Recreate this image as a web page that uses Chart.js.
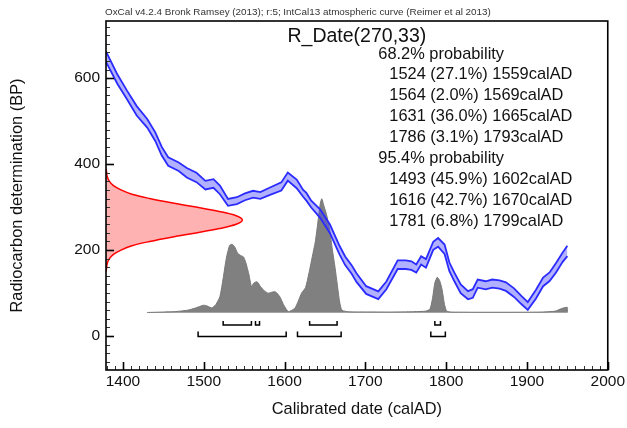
<!DOCTYPE html>
<html><head><meta charset="utf-8">
<script src="https://cdn.jsdelivr.net/npm/chart.js@4.4.0/dist/chart.umd.min.js"></script>
<style>html,body{margin:0;padding:0;background:#fff}#wrap{width:627px;height:428px;position:relative}</style>
</head><body><div id="wrap"><canvas id="c" width="627" height="428"></canvas></div>
<script>
// ---- data ----
const headerText = 'OxCal v4.2.4 Bronk Ramsey (2013); r:5; IntCal13 atmospheric curve (Reimer et al 2013)';
const titleText = 'R_Date(270,33)';
const probLines = [
  '68.2% probability',
  '1524 (27.1%) 1559calAD',
  '1564 (2.0%) 1569calAD',
  '1631 (36.0%) 1665calAD',
  '1786 (3.1%) 1793calAD',
  '95.4% probability',
  '1493 (45.9%) 1602calAD',
  '1616 (42.7%) 1670calAD',
  '1781 (6.8%) 1799calAD'
];
const xTickLabels = [1400, 1500, 1600, 1700, 1800, 1900, 2000];
const yTickLabels = [0, 200, 400, 600];

// IntCal13 calibration curve (BP mean and 1 sigma)
const curveYears = [1379,1393,1405,1417,1430,1440,1448,1456,1469,1479,1491,1502,1512,1520,1530,1541,1551,1561,1570,1582,1596,1604,1615,1623,1627,1633,1644,1656,1668,1675,1683,1689,1701,1716,1726,1740,1750,1757,1763,1769,1775,1784,1790,1798,1804,1810,1818,1827,1833,1839,1849,1857,1866,1874,1884,1893,1901,1911,1920,1928,1936,1944,1950];
const curveBP    = [650,598,561,524,495,464,430,406,394,380,369,351,355,340,311,315,324,330,327,337,348,371,354,332,324,307,285,250,200,175,155,136,107,95,118,166,166,164,157,176,169,210,218,202,161,138,110,95,99,122,118,122,120,115,101,84,70,97,126,138,159,183,198];
const curveErr   = [12,11,10,11,10,10,10,10,10,11,11,10,10,10,8,8,8,8,8,8.5,9.5,9.5,10,8,9,8,10,10,10,10,10,10,9,9,9,10,10,10,9.5,9.5,10,9.5,10,11,10,10,10,9.5,10,9.5,9.5,9.5,9.5,10,10,9.5,9,10,10,10,11,11,12];

// calibrated probability distribution (relative)
const pdfYears = [1430,1450,1465,1480,1490,1500,1505,1510,1515,1520,1524,1528,1532,1535,1538,1542,1546,1549,1552,1556,1559,1562,1566,1570,1575,1580,1585,1589,1594,1598,1602,1605,1609,1613,1617,1621,1626,1630,1634,1638,1641,1644,1646,1649,1652,1656,1659,1662,1665,1668,1671,1680,1700,1730,1760,1775,1780,1783,1786,1789,1792,1795,1798,1801,1815,1880,1920,1935,1943,1950,1950];
const pdfProb  = [0,0.004,0.008,0.02,0.04,0.064,0.055,0.04,0.07,0.14,0.3,0.48,0.59,0.6,0.58,0.52,0.5,0.49,0.44,0.33,0.23,0.26,0.27,0.23,0.19,0.17,0.18,0.18,0.14,0.08,0.03,0.008,0.02,0.04,0.1,0.17,0.22,0.34,0.48,0.62,0.78,0.95,1.0,0.93,0.86,0.72,0.56,0.42,0.26,0.1,0.02,0.006,0.005,0.004,0.007,0.012,0.03,0.12,0.26,0.31,0.28,0.2,0.07,0.01,0.003,0.002,0.004,0.012,0.035,0.045,0];

// measured radiocarbon date distribution (relative)
const measBP   = [390,380,370,360,350,340,330,320,310,300,290,280,270,260,250,240,230,220,210,200,190,180,170,160,150];
const measProb = [0,0.005,0.01,0.025,0.055,0.11,0.19,0.32,0.48,0.66,0.83,0.955,1,0.955,0.83,0.66,0.48,0.32,0.19,0.11,0.055,0.025,0.01,0.005,0];

// highest posterior density ranges
const ranges68 = [[1524,1559],[1564,1569],[1631,1665],[1786,1793]];
const ranges95 = [[1493,1602],[1616,1670],[1781,1799]];

// ---- build datasets ----
const upper = curveYears.map((yr, i) => ({x: yr, y: curveBP[i] + curveErr[i]}));
const lower = curveYears.map((yr, i) => ({x: yr, y: curveBP[i] - curveErr[i]}));
const pdf = pdfYears.map((yr, i) => ({x: yr, y: pdfProb[i]}));
const meas = measBP.map((bp, i) => ({x: measProb[i], y: bp}));
const baseLine = [{x: pdfYears[0], y: 0}, {x: pdfYears[pdfYears.length - 1], y: 0}];

function brackets(ranges, lineY, tickY) {
  const pts = [];
  ranges.forEach(([a, b]) => {
    pts.push({x: a, y: tickY}, {x: a, y: lineY}, {x: b, y: lineY}, {x: b, y: tickY}, {x: b, y: null});
  });
  return pts;
}

const oxcalPlugin = {
  id: 'oxcal',
  afterDatasetsDraw(chart) {
    const {ctx, chartArea: a, scales: {x, y}} = chart;
    ctx.save();
    for (let v = Math.ceil(x.min / 10) * 10; v <= x.max; v += 10) {
      const px = Math.round(x.getPixelForValue(v)) + 0.5;
      const major = v % 100 === 0;
      ctx.lineWidth = major ? 1.6 : 1;
      ctx.strokeStyle = major ? '#000' : '#333';
      ctx.beginPath(); ctx.moveTo(px, a.bottom); ctx.lineTo(px, a.bottom - (major ? 8 : 4)); ctx.stroke();
    }
    for (let v = Math.ceil(y.min / 20) * 20; v <= y.max; v += 20) {
      const py = Math.round(y.getPixelForValue(v)) + 0.5;
      const major = v % 200 === 0;
      ctx.lineWidth = major ? 1.6 : 1;
      ctx.strokeStyle = major ? '#000' : '#333';
      ctx.beginPath(); ctx.moveTo(a.left, py); ctx.lineTo(a.left + (major ? 8 : 4), py); ctx.stroke();
    }
    ctx.lineWidth = 1.6; ctx.strokeStyle = '#000';
    ctx.strokeRect(a.left, a.top, a.right - a.left, a.bottom - a.top);
    ctx.restore();
  },
  afterDraw(chart) {
    const {ctx, chartArea: a} = chart;
    ctx.save();
    ctx.textBaseline = 'middle';
    ctx.fillStyle = '#333';
    ctx.font = '9.9px "Liberation Sans", Arial, sans-serif';
    ctx.textAlign = 'left';
    ctx.fillText(headerText, 105, 12);
    ctx.fillStyle = '#111';
    ctx.font = '19.5px "Liberation Sans", Arial, sans-serif';
    ctx.textAlign = 'center';
    ctx.fillText(titleText, (a.left + a.right) / 2, 37);
    ctx.font = '16.4px "Liberation Sans", Arial, sans-serif';
    ctx.textAlign = 'left';
    probLines.forEach((t, i) => {
      const heading = t.indexOf('probability') >= 0;
      ctx.fillText(t, heading ? 378.3 : 389.3, 54 + i * 20.9);
    });
    ctx.restore();
  }
};

const font = (s) => ({family: '"Liberation Sans", Arial, sans-serif', size: s});

new Chart(document.getElementById('c'), {
  type: 'line',
  data: {
    datasets: [
      {label: 'meas', data: meas, xAxisID: 'x2', yAxisID: 'y', borderColor: '#ff0000', borderWidth: 1.5,
       backgroundColor: 'rgba(255,0,0,0.3)', fill: 'shape', tension: 0.35, pointRadius: 0, order: 1},
      {label: 'upper', data: upper, xAxisID: 'x', yAxisID: 'y', borderColor: '#2b2bff', borderWidth: 1.8,
       fill: false, tension: 0, pointRadius: 0, order: 2},
      {label: 'lower', data: lower, xAxisID: 'x', yAxisID: 'y', borderColor: '#2b2bff', borderWidth: 1.8,
       backgroundColor: 'rgba(60,60,255,0.4)', fill: '-1', tension: 0, pointRadius: 0, order: 3},
      {label: 'r68', data: brackets(ranges68, -0.111, -0.074), xAxisID: 'x', yAxisID: 'y2', borderColor: '#000',
       borderWidth: 1.5, fill: false, tension: 0, pointRadius: 0, spanGaps: false, order: 4},
      {label: 'r95', data: brackets(ranges95, -0.211, -0.168), xAxisID: 'x', yAxisID: 'y2', borderColor: '#000',
       borderWidth: 1.5, fill: false, tension: 0, pointRadius: 0, spanGaps: false, order: 5},
      {label: 'pdf', data: pdf, xAxisID: 'x', yAxisID: 'y2', borderColor: '#777', borderWidth: 1,
       backgroundColor: '#808080', fill: 'origin', tension: 0.2, pointRadius: 0, order: 6},
      {label: 'base', data: baseLine, xAxisID: 'x', yAxisID: 'y2', borderColor: '#c8c8c8', borderWidth: 1.2,
       fill: false, pointRadius: 0, order: 7}
    ]
  },
  options: {
    responsive: false, animation: false, devicePixelRatio: 1,
    layout: {padding: {top: 21, right: 18, left: 0, bottom: 0}},
    plugins: {legend: {display: false}, tooltip: {enabled: false}, title: {display: false}},
    scales: {
      x: {type: 'linear', position: 'bottom', min: 1379, max: 2000,
          grid: {display: false, drawTicks: false}, border: {display: false},
          ticks: {font: font(15.5), color: '#111', padding: 2, maxRotation: 0, autoSkip: false,
                  callback: v => String(v)},
          afterBuildTicks: s => { s.ticks = xTickLabels.map(v => ({value: v})); },
          afterFit: s => { s.height = 58; },
          title: {display: true, text: 'Calibrated date (calAD)', font: font(16.4), color: '#111', padding: {top: 0, bottom: 8.4}}},
      x2: {type: 'linear', display: false, min: 0, max: 3.68},
      y: {type: 'linear', position: 'left', min: -79, max: 733,
          grid: {display: false, drawTicks: false}, border: {display: false},
          ticks: {font: font(15.5), color: '#111', padding: 6, callback: v => String(v)},
          afterBuildTicks: s => { s.ticks = yTickLabels.map(v => ({value: v})); },
          afterFit: s => { s.width = 106; },
          title: {display: true, text: 'Radiocarbon determination (BP)', font: font(16.4), color: '#111', padding: {top: 8, bottom: 0}}},
      y2: {type: 'linear', display: false, position: 'left', min: -0.506, max: 2.564}
    }
  },
  plugins: [oxcalPlugin]
});
</script></body></html>
